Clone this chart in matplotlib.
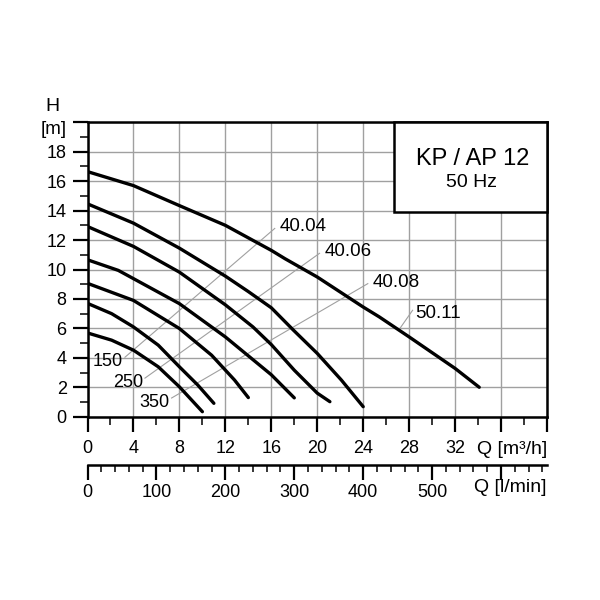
import matplotlib
matplotlib.use("Agg")
import matplotlib.pyplot as plt
from matplotlib.patches import Rectangle

plt.rcParams['font.family'] = ['Liberation Sans', 'DejaVu Sans']

# pump curves, Q in m3/h, H in m
q_5011 = [0, 4, 8, 12, 16, 17.2, 20, 24, 25.4, 28, 32, 34.1]
h_5011 = [16.65, 15.7, 14.34, 13.0, 11.3, 10.73, 9.49, 7.45, 6.78, 5.42, 3.28, 2.0]

q_4008 = [0, 4, 8, 12, 14, 16, 17.9, 20, 22.1, 24]
h_4008 = [14.46, 13.15, 11.45, 9.55, 8.5, 7.4, 5.9, 4.3, 2.49, 0.68]

q_4006 = [0, 4, 8, 12, 14.4, 16, 18, 20, 21.1]
h_4006 = [12.92, 11.57, 9.82, 7.6, 6.1, 4.9, 3.16, 1.6, 1.02]

q_4004 = [0, 2.68, 4, 8, 12, 14.1, 16, 18]
h_4004 = [10.66, 9.94, 9.38, 7.68, 5.42, 4.07, 2.85, 1.28]

q_150 = [0, 4, 8, 10.8, 12.8, 14]
h_150 = [9.06, 7.9, 5.99, 4.18, 2.49, 1.3]

q_250 = [0, 2.1, 4, 6.16, 8, 9.6, 11.0]
h_250 = [7.7, 7.0, 6.1, 4.86, 3.39, 2.15, 0.91]

q_350 = [0, 2.1, 4, 6.16, 8, 10.0]
h_350 = [5.69, 5.2, 4.52, 3.39, 2.03, 0.34]

curves = [(q_5011, h_5011), (q_4008, h_4008), (q_4006, h_4006), (q_4004, h_4004),
          (q_150, h_150), (q_250, h_250), (q_350, h_350)]

# thin leader lines: left label, start (q, h), end (q, h)
leaders = [
    ("150", (3.26, 4.04), (16.3, 12.79)),
    ("250", (5.0, 2.62), (20.2, 11.1)),
    ("350", (7.32, 1.27), (24.4, 9.04)),
]
right_labels = ["40.04", "40.06", "40.08"]
tag_5011 = ("50.11", (27.2, 6.0), (28.3, 7.23))

q_ticks = list(range(0, 41, 4))
q_ticklabels = [str(v) for v in range(0, 33, 4)] + ["", ""]
h_ticks = list(range(0, 21, 2))
h_ticklabels = [str(v) for v in range(0, 19, 2)] + [""]
lmin_ticks = list(range(0, 601, 100))
lmin_ticklabels = [str(v) for v in range(0, 501, 100)] + [""]

fig = plt.figure(figsize=(6, 6), dpi=100)
W = H = 600.0
x0, x1, y0, y1 = 87.5, 547, 416.7, 122.3
ax = fig.add_axes([x0 / W, 1 - y0 / H, (x1 - x0) / W, (y0 - y1) / H])
ax.set_xlim(0, 40)
ax.set_ylim(0, 20)

ax.set_xticks(q_ticks)
ax.set_xticklabels(q_ticklabels)
ax.set_xticks(range(0, 41, 2), minor=True)
ax.set_yticks(h_ticks)
ax.set_yticklabels(h_ticklabels)
ax.set_yticks(range(0, 21, 1), minor=True)
ax.grid(True, which='major', color='#a0a0a0', lw=1.0)
ax.set_axisbelow(True)
ax.tick_params(which='major', direction='out', length=11, width=1.6, labelsize=13, pad=4)
ax.tick_params(which='minor', direction='out', length=5.5, width=1.1)
ax.tick_params(axis='x', which='major', pad=6)
for s in ax.spines.values():
    s.set_linewidth(1.8)

for q, h in curves:
    ax.plot(q, h, color='black', lw=2.4, solid_capstyle='round', solid_joinstyle='round', zorder=4)

for (lab, p0, p1), rlab in zip(leaders, right_labels):
    ax.plot([p0[0], p1[0]], [p0[1], p1[1]], color='#a0a0a0', lw=0.8, zorder=3)
    ax.text(p0[0] - 0.15, p0[1] - 0.3, lab, ha='right', va='center', fontsize=13, zorder=5)
    ax.text(p1[0] + 0.4, p1[1] + 0.1, rlab, ha='left', va='center', fontsize=13.5, zorder=5)

lab, p0, p1 = tag_5011
ax.plot([p0[0], p1[0]], [p0[1], p1[1]], color='#a0a0a0', lw=0.8, zorder=3)
ax.text(p1[0] + 0.2, p1[1] - 0.25, lab, ha='left', va='center', fontsize=13.5, zorder=5)

# title box
ax.add_patch(Rectangle((26.7, 13.94), 40 - 26.7, 20 - 13.94, facecolor='white',
                       edgecolor='black', lw=1.8, zorder=6, clip_on=False))
ax.text(33.5, 17.53, "KP / AP 12", ha='center', va='center', fontsize=17, zorder=7)
ax.text(33.45, 15.9, "50 Hz", ha='center', va='center', fontsize=14, zorder=7)

# second flow scale in l/min
sec = ax.secondary_xaxis(-(465 - y0) / (y0 - y1),
                         functions=(lambda q: q * 50 / 3, lambda l: l * 3 / 50))
sec.set_xticks(lmin_ticks)
sec.set_xticklabels(lmin_ticklabels)
sec.set_xticks(range(0, 661, 20), minor=True)
sec.tick_params(which='major', direction='out', length=11, width=1.6, labelsize=13, pad=3)
sec.tick_params(which='minor', direction='out', length=5, width=1.1)
sec.spines['bottom'].set_linewidth(1.8)

fig.text(547 / W, 1 - 450 / H, "Q [m³/h]", ha='right', va='center', fontsize=14)
fig.text(547 / W, 1 - 488 / H, "Q [l/min]", ha='right', va='center', fontsize=14)
fig.text(52 / W, 1 - 106.5 / H, "H", ha='center', va='center', fontsize=14)
fig.text(67 / W, 1 - 130 / H, "[m]", ha='right', va='center', fontsize=13.5)

fig.savefig("out.png", dpi=100)
